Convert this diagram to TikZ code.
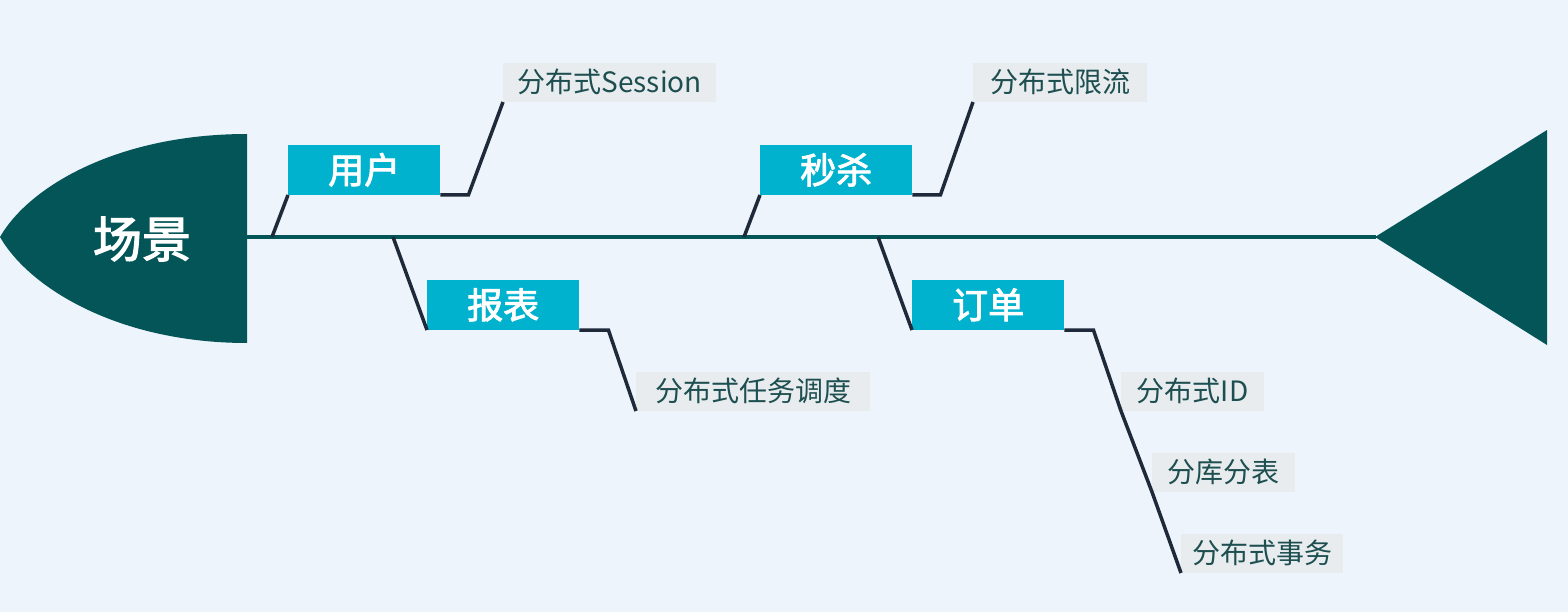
\documentclass[tikz,border=0pt]{standalone}
\usepackage{fontspec}
\newfontfamily\cjk{Noto Sans CJK SC}
\newfontfamily\cjkmed{Noto Sans CJK SC}[FakeBold=2.5]
\definecolor{bg}{HTML}{EEF4FB}
\definecolor{fishteal}{HTML}{035557}
\definecolor{cyanbox}{HTML}{00B2CE}
\definecolor{lblbg}{HTML}{E8ECEE}
\definecolor{lbltext}{HTML}{1D4E50}
\definecolor{conn}{HTML}{1E2A3A}
\tikzset{
  catbox/.style={fill=cyanbox, text=white, font=\cjkmed\fontsize{36}{38}\selectfont,
    minimum width=152pt, minimum height=50pt, inner sep=0pt, anchor=south west},
  lblbox/.style={fill=lblbg, text=lbltext, font=\cjk\fontsize{28}{32}\selectfont,
    minimum height=39pt, inner sep=0pt, anchor=south west},
  conline/.style={draw=conn, line width=3.5pt, line join=miter},
}
\begin{document}
\begin{tikzpicture}[x=1pt,y=-1pt]
\fill[bg] (0,0) rectangle (1568,612);
\useasboundingbox (0,0) rectangle (1568,612);
% head
\fill[fishteal] (247,134) .. controls (120,134) and (30,185) .. (0,237)
  .. controls (30,289) and (120,343) .. (247,343) -- cycle;
\node[text=white, font=\cjkmed\fontsize{49}{52}\selectfont] (head) at (142,239) {场景};
% tail
\fill[fishteal] (1375,237) -- (1547,130) -- (1547,345) -- cycle;
\coordinate (spineA) at (247,237);
\coordinate (spineB) at (1376,237);
\draw[fishteal, line width=4pt] (spineA) -- (spineB);
% spine junctions
\coordinate (j1) at (272,237);
\coordinate (j2) at (393,237);
\coordinate (j3) at (744,237);
\coordinate (j4) at (878,237);
% category boxes
\node[catbox] (user) at (288,195) {用户};
\node[catbox] (seckill) at (760,195) {秒杀};
\node[catbox] (report) at (427,330) {报表};
\node[catbox] (order) at (912,330) {订单};
% labels
\node[lblbox, minimum width=213pt] (sess) at (503,102) {分布式Session};
\node[lblbox, minimum width=174pt] (limit) at (973,102) {分布式限流};
\node[lblbox, minimum width=234pt] (task) at (636,411) {分布式任务调度};
\node[lblbox, minimum width=143pt] (dsid) at (1121,411) {分布式ID};
\node[lblbox, minimum width=143pt] (shard) at (1152,492) {分库分表};
\node[lblbox, minimum width=162pt] (tx) at (1181,573) {分布式事务};
% connectors
\draw[conline] (j1) -- (user.south west);
\draw[conline] (user.south east) -- ++(28,0) -- (sess.south west);
\draw[conline] (j3) -- (seckill.south west);
\draw[conline] (seckill.south east) -- ++(28,0) -- (limit.south west);
\draw[conline] (j2) -- (report.south west);
\draw[conline] (report.south east) -- ++(29,0) -- (task.south west);
\draw[conline] (j4) -- (order.south west);
\draw[conline] (order.south east) -- ++(29,0) -- (dsid.south west) -- (shard.south west) -- (tx.south west);
\end{tikzpicture}
\end{document}
